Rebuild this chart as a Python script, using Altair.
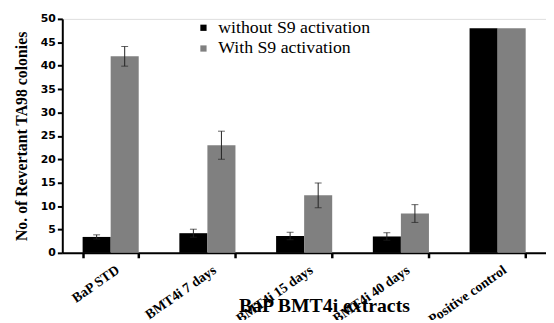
import altair as alt
import pandas as pd

categories = ["BaP STD", "BMT4i 7 days", "BMT4i 15 days", "BMT4i 40 days", "Positive control"]
series_names = ["without S9 activation", "With S9 activation"]
without_s9 = [3.4, 4.2, 3.6, 3.5, 48]
without_s9_err = [0.45, 0.85, 0.8, 0.8, 0]
with_s9 = [42, 23, 12.3, 8.4, 48]
with_s9_err = [2.1, 3.0, 2.65, 1.9, 0]
y_ticks = [0, 5, 10, 15, 20, 25, 30, 35, 40, 45, 50]

rows = []
for i, c in enumerate(categories):
    rows.append(dict(cat=c, series=series_names[0], value=without_s9[i], err=without_s9_err[i]))
    rows.append(dict(cat=c, series=series_names[1], value=with_s9[i], err=with_s9_err[i]))
df = pd.DataFrame(rows)
df["lo"] = df["value"] - df["err"]
df["hi"] = df["value"] + df["err"]

x_scale = alt.Scale(paddingInner=0.42, paddingOuter=0.21)
x_axis = alt.Axis(
    title="BaP BMT4i extracts", labelAngle=-35,
    labelFont="Liberation Serif", labelFontWeight="bold", labelFontSize=14,
    labelColor="black", labelPadding=5, labelOverlap=False, labelOffset=3,
    tickBand="extent", tickSize=5, tickWidth=2.5, tickColor="black",
    domainColor="black", domainWidth=2,
    titleFont="Liberation Serif", titleFontSize=20, titleFontWeight="bold",
    titleColor="black", titleBaseline="alphabetic", titleAlign="center",
    titleX=265, titleY=59,
)
y_scale = alt.Scale(domain=[0, 50], nice=False)
y_axis = alt.Axis(
    title="No. of Revertant TA98 colonies", values=y_ticks, grid=False,
    labelFont="DejaVu Sans", labelFontWeight="bold", labelFontSize=11, labelColor="black",
    labelOverlap=False,
    tickSize=5, tickWidth=2, tickColor="black", domainColor="black", domainWidth=2,
    titleFont="Liberation Serif", titleFontSize=16, titleFontWeight="bold",
    titleColor="black", titlePadding=11,
)

x = alt.X("cat:N", sort=categories, scale=x_scale, axis=x_axis)
xoff = alt.XOffset("series:N", sort=series_names, scale=alt.Scale(paddingInner=0, paddingOuter=0))

def yenc(field):
    return alt.Y(field, scale=y_scale, axis=y_axis)

base = alt.Chart(df)
bars = base.mark_bar().encode(
    x=x, y=yenc("value:Q"), xOffset=xoff,
    color=alt.Color(
        "series:N", sort=series_names,
        scale=alt.Scale(domain=series_names, range=["#000000", "#808080"]),
        legend=alt.Legend(
            title=None, orient="none", legendX=134, legendY=0,
            symbolType="square", symbolSize=40, symbolStrokeWidth=0,
            labelFont="Liberation Serif", labelFontSize=18, labelColor="black",
            labelOffset=6, rowPadding=3,
        ),
    ),
)
errs = base.transform_filter("datum.err > 0")
rules = errs.mark_rule(color="#222222", strokeWidth=1).encode(
    x=x, xOffset=xoff, y=yenc("lo:Q"), y2="hi:Q"
)
caps_hi = errs.mark_tick(color="#222222", thickness=1, size=7).encode(
    x=x, xOffset=xoff, y=yenc("hi:Q")
)
caps_lo = errs.mark_tick(color="#222222", thickness=1, size=7).encode(
    x=x, xOffset=xoff, y=yenc("lo:Q")
)

chart = alt.layer(bars, rules, caps_hi, caps_lo).properties(
    width=490, height=237,
    autosize=alt.AutoSizeParams(type="none"),
    padding={"left": 55, "top": 9, "right": 0, "bottom": 66},
).configure_view(stroke=None).configure(background="white").configure_legend(
    labelFont="Liberation Serif"
)

chart.save("out.html", embed_options={"renderer": "svg", "actions": False})
